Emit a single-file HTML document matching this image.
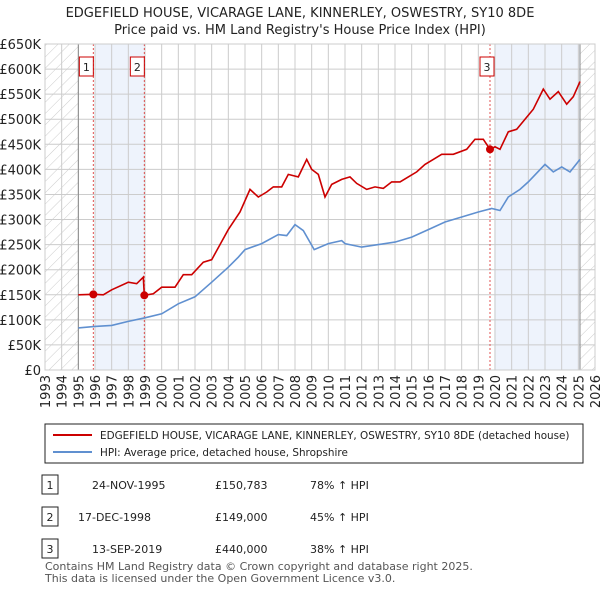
<!DOCTYPE html>
<html><head><meta charset="utf-8"><style>
body{margin:0;background:#fff;font-family:"Liberation Sans","DejaVu Sans",sans-serif;}
svg text{font-family:"DejaVu Sans","Liberation Sans",sans-serif;}
</style></head><body>
<svg id="c" width="600" height="590" xmlns="http://www.w3.org/2000/svg">
<defs><pattern id="hatch" width="8" height="8" patternUnits="userSpaceOnUse" patternTransform="rotate(45)"><line x1="0" y1="0" x2="0" y2="8" stroke="#ccc" stroke-width="1"/></pattern></defs>
<text x="300" y="17" text-anchor="middle" font-size="13" fill="#222">EDGEFIELD HOUSE, VICARAGE LANE, KINNERLEY, OSWESTRY, SY10 8DE</text>
<text x="300" y="34" text-anchor="middle" font-size="13" fill="#222">Price paid vs. HM Land Registry's House Price Index (HPI)</text>
<g id="plot"></g>
<g id="legend">
<rect x="45" y="424" width="538" height="39" fill="#fff" stroke="#222"/>
<line x1="53" y1="435" x2="92" y2="435" stroke="#cc0000" stroke-width="2"/>
<text x="100" y="439" font-size="10.4" fill="#222">EDGEFIELD HOUSE, VICARAGE LANE, KINNERLEY, OSWESTRY, SY10 8DE (detached house)</text>
<line x1="53" y1="452" x2="92" y2="452" stroke="#6090d0" stroke-width="2"/>
<text x="100" y="456" font-size="10.4" fill="#222">HPI: Average price, detached house, Shropshire</text>
</g>
<g id="table" font-size="11" fill="#222"></g>
<text x="45" y="570" font-size="11" fill="#555">Contains HM Land Registry data © Crown copyright and database right 2025.</text>
<text x="45" y="582" font-size="11" fill="#555">This data is licensed under the Open Government Licence v3.0.</text>
</svg>
<script>
const hpiYears=[1995,1996,1997,1998,1999,2000,2001,2002,2003,2004,2004.6,2005,2006,2007,2007.5,2008,2008.5,2009.15,2010,2010.8,2011,2012,2013,2014,2015,2016,2017,2018,2019,2019.8,2020.3,2020.8,2021.5,2022,2023,2023.5,2024,2024.5,2025.1];
const hpiValues=[84,87,89,97,104,112,132,146,175,205,225,240,252,270,268,290,278,240,252,258,252,245,250,255,265,280,295,305,315,322,318,345,360,375,410,395,405,395,420];
const priceYears=[1995,1995.9,1996.5,1997,1998,1998.5,1998.9,1998.96,1999.5,2000,2000.8,2001.3,2001.8,2002.5,2003,2003.5,2004,2004.7,2005.3,2005.8,2006.3,2006.7,2007.2,2007.6,2008.2,2008.7,2009,2009.4,2009.8,2010.2,2010.8,2011.3,2011.7,2012.3,2012.8,2013.3,2013.8,2014.3,2014.8,2015.3,2015.8,2016.3,2016.8,2017.5,2018.3,2018.8,2019.3,2019.7,2020,2020.3,2020.8,2021.3,2021.8,2022.3,2022.9,2023.3,2023.8,2024.3,2024.7,2025.1];
const priceValues=[150,151,150,160,175,172,185,149,152,165,165,190,190,215,220,250,280,315,360,345,355,365,365,390,385,420,400,390,345,370,380,385,372,360,365,362,375,375,385,395,410,420,430,430,440,460,460,440,445,440,475,480,500,520,560,540,555,530,545,575];
const saleLabels=["1","2","3"];
const saleYears=[1995.9,1998.96,2019.7];
const saleValues=[150.783,149,440];
const saleDates=["24-NOV-1995","17-DEC-1998","13-SEP-2019"];
const salePrices=["£150,783","£149,000","£440,000"];
const saleHpi=["78% ↑ HPI","45% ↑ HPI","38% ↑ HPI"];
const yTicks=[0,50,100,150,200,250,300,350,400,450,500,550,600,650];
const xTicks=[1993,1994,1995,1996,1997,1998,1999,2000,2001,2002,2003,2004,2005,2006,2007,2008,2009,2010,2011,2012,2013,2014,2015,2016,2017,2018,2019,2020,2021,2022,2023,2024,2025,2026];

const X0=45,X1=595,Y0=370,Y1=44;
const x=v=>X0+(v-1993)*(X1-X0)/33;
const y=v=>Y0-v*(Y0-Y1)/650;
const NS="http://www.w3.org/2000/svg";
const plot=document.getElementById('plot');
function mk(tag,at,parent){const e=document.createElementNS(NS,tag);for(const k in at)e.setAttribute(k,at[k]);(parent||plot).appendChild(e);return e;}
let e;
e=mk('rect',{x:x(1996),y:Y1,width:x(1998.96)-x(1996),height:Y0-Y1,fill:'#eef3fc'});


e=mk('rect',{x:x(2019.95),y:Y1,width:x(2025.1)-x(2019.95),height:Y0-Y1,fill:'#eef3fc'});


e=mk('rect',{x:X0,y:Y1,width:x(1995)-X0,height:Y0-Y1,fill:'url(#hatch)'});


e=mk('rect',{x:x(2025.1),y:Y1,width:X1-x(2025.1),height:Y0-Y1,fill:'url(#hatch)'});


yTicks.forEach(t=>{
 e=mk('line',{x1:X0,x2:X1,y1:y(t),y2:y(t),stroke:'#ccc'});
 
 
 e=mk('text',{x:X0-4,y:y(t)+5,'text-anchor':'end','font-size':13,fill:'#222'});
 e.textContent=t===0?'£0':'£'+t+'K';
 
 
});
xTicks.forEach(t=>{
 e=mk('line',{x1:x(t),x2:x(t),y1:Y1,y2:Y0,stroke:'#ccc'});
 
 
 e=mk('text',{transform:`translate(${x(t)+5},${Y0+5}) rotate(-90)`,'text-anchor':'end','font-size':13,fill:'#222'});
 e.textContent=t;
 
 
});
e=mk('line',{x1:x(1995),x2:x(1995),y1:Y1,y2:Y0,stroke:'#888'});


e=mk('line',{x1:x(2025.1),x2:x(2025.1),y1:Y1,y2:Y0,stroke:'#888'});


saleYears.forEach((s,i)=>{
 e=mk('line',{x1:x(s),x2:x(s),y1:Y1,y2:Y0,stroke:'#e05050','stroke-dasharray':'2,2'});
 
 
 const bx=x(s)-(i==2?10:14);
 e=mk('rect',{x:bx,y:57,width:14,height:19,fill:'#fff',stroke:'#cc0000'});
 
 
 e=mk('text',{x:bx+7,y:71,'text-anchor':'middle','font-size':11,fill:'#222'});
 e.textContent=saleLabels[i];
 
 
});
const path=(xs,vs)=>xs.map((v,i)=>(i?'L':'M')+x(v).toFixed(1)+','+y(vs[i]).toFixed(1)).join(' ');
e=mk('path',{d:path(hpiYears,hpiValues),fill:'none',stroke:'#6090d0','stroke-width':1.6});


e=mk('path',{d:path(priceYears,priceValues),fill:'none',stroke:'#cc0000','stroke-width':1.6});


saleYears.forEach((s,i)=>{
 e=mk('circle',{cx:x(s),cy:y(saleValues[i]),r:4,fill:'#cc0000'});
 
 
});
e=mk('rect',{x:X0,y:Y1,width:X1-X0,height:Y0-Y1,fill:'none',stroke:'#ccc'});


const tb=document.getElementById('table');
saleLabels.forEach((l,i)=>{
 const cy=484+i*32;
 e=mk('rect',{x:42,y:cy-9,width:16,height:19,fill:'#fff',stroke:'#222'},tb);
 
 
 e=mk('text',{x:50,y:cy+5,'text-anchor':'middle'},tb);e.textContent=l;
 
 
 e=mk('text',{x:i==1?78:92,y:cy+5},tb);e.textContent=saleDates[i];
 
 
 e=mk('text',{x:215,y:cy+5},tb);e.textContent=salePrices[i];
 
 
 e=mk('text',{x:310,y:cy+5},tb);e.textContent=saleHpi[i];
 
 
});
</script>
</body></html>
